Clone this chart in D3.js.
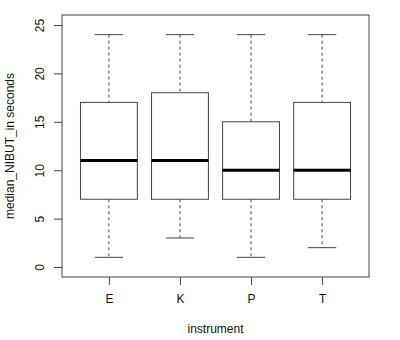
<!DOCTYPE html>
<html>
<head>
<meta charset="utf-8">
<script src="https://cdn.jsdelivr.net/npm/d3@7"></script>
<style>
  body { margin: 0; background: #fff; }
  text { font-family: "Liberation Sans", Arial, sans-serif; fill: #111; }
</style>
</head>
<body>
<div class="chart"></div>
<script>
// box stats
const instruments = ["E", "K", "P", "T"];
const lowWhisker = [1, 3, 1, 2];
const q1 = [7, 7, 7, 7];
const medians = [11, 11, 10, 10];
const q3 = [17, 18, 15, 17];
const highWhisker = [24, 24, 24, 24];
const yTicks = [0, 5, 10, 15, 20, 25];

const stats = instruments.map((k, i) => ({
  key: k, lo: lowWhisker[i], q1: q1[i], med: medians[i], q3: q3[i], hi: highWhisker[i]
}));

const W = 400, H = 340;
const plotLeft = 62, plotRight = 369, plotTop = 15, plotBottom = 277;
const stroke = "#444";

const svg = d3.select(".chart").append("svg")
  .attr("width", W).attr("height", H);

const x = d3.scaleLinear().domain([0.34, 4.66]).range([plotLeft, plotRight]);
const y = d3.scaleLinear().domain([-1.03, 26.03]).range([plotBottom, plotTop]);
const step = x(2) - x(1);
const boxW = step * 0.8, capW = step * 0.4;

// whiskers (dashed), caps, boxes, medians
const g = svg.append("g");
stats.forEach((d, i) => {
  const cx = x(i + 1);
  g.append("line").attr("x1", cx).attr("x2", cx)
    .attr("y1", y(d.hi)).attr("y2", y(d.q3))
    .attr("stroke", stroke).attr("stroke-dasharray", "3,3");
  g.append("line").attr("x1", cx).attr("x2", cx)
    .attr("y1", y(d.q1)).attr("y2", y(d.lo))
    .attr("stroke", stroke).attr("stroke-dasharray", "3,3");
  [d.hi, d.lo].forEach(v => {
    g.append("line").attr("x1", cx - capW / 2).attr("x2", cx + capW / 2)
      .attr("y1", y(v)).attr("y2", y(v)).attr("stroke", stroke);
  });
  g.append("rect").attr("x", cx - boxW / 2).attr("width", boxW)
    .attr("y", y(d.q3)).attr("height", y(d.q1) - y(d.q3))
    .attr("fill", "#fff").attr("stroke", stroke);
  g.append("line").attr("x1", cx - boxW / 2).attr("x2", cx + boxW / 2)
    .attr("y1", y(d.med)).attr("y2", y(d.med))
    .attr("stroke", "#000").attr("stroke-width", 3);
});

// frame
svg.append("rect").attr("x", plotLeft).attr("y", plotTop)
  .attr("width", plotRight - plotLeft).attr("height", plotBottom - plotTop)
  .attr("fill", "none").attr("stroke", stroke);

// y axis
const yAxis = d3.axisLeft(y).tickValues(yTicks).tickSize(8);
const ya = svg.append("g").attr("transform", "translate(" + plotLeft + ",0)").call(yAxis);
ya.select(".domain").remove();
ya.selectAll(".tick line").attr("stroke", stroke);
ya.selectAll(".tick text")
  .attr("font-size", 12).attr("font-family", "Liberation Sans, Arial, sans-serif")
  .attr("fill", "#111")
  .attr("transform", "rotate(-90)")
  .attr("text-anchor", "middle")
  .attr("x", 0).attr("y", -18).attr("dy", "0");

// x axis
const xAxis = d3.axisBottom(x).tickValues([1, 2, 3, 4])
  .tickFormat(d => instruments[d - 1]).tickSize(8).tickPadding(9);
const xa = svg.append("g").attr("transform", "translate(0," + plotBottom + ")").call(xAxis);
xa.select(".domain").remove();
xa.selectAll(".tick line").attr("stroke", stroke);
xa.selectAll(".tick text").attr("font-size", 12)
  .attr("font-family", "Liberation Sans, Arial, sans-serif").attr("fill", "#111");

// axis titles
svg.append("text").attr("x", (plotLeft + plotRight) / 2).attr("y", 333)
  .attr("text-anchor", "middle").attr("font-size", 12).text("instrument");
svg.append("text").attr("transform", "translate(14," + ((plotTop + plotBottom) / 2) + ") rotate(-90)")
  .attr("text-anchor", "middle").attr("font-size", 12).text("median_NIBUT_in seconds");
</script>
</body>
</html>
